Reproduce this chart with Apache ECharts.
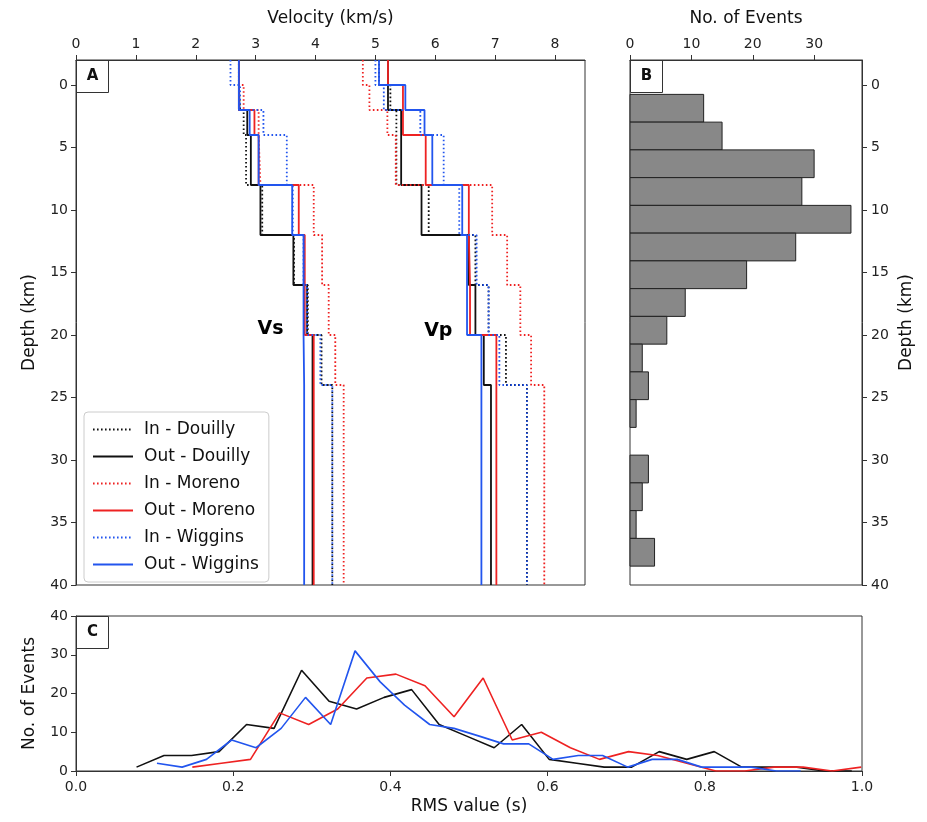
<!DOCTYPE html>
<html><head><meta charset="utf-8">
<script src="https://cdn.jsdelivr.net/npm/echarts@6/dist/echarts.min.js"></script>
<style>html,body{margin:0;padding:0;background:#fff}#c{width:927px;height:822px}</style>
</head><body><div id="c"></div>
<script>
// ---- Velocity models (panel A) ----
const layerTops = [-2, 0, 2, 4, 8, 12, 16, 20, 24];
const modelBottom = 40;
const modelNames = ['In - Douilly', 'Out - Douilly', 'In - Moreno', 'Out - Moreno', 'In - Wiggins', 'Out - Wiggins'];
const vsInDouilly   = [2.72, 2.74, 2.80, 2.84, 3.11, 3.64, 3.87, 4.10, 4.28];
const vsOutDouilly  = [2.72, 2.72, 2.86, 2.92, 3.08, 3.63, 3.86, 3.95, 3.95];
const vsInMoreno    = [2.72, 2.80, 3.05, 3.08, 3.97, 4.11, 4.22, 4.33, 4.47];
const vsOutMoreno   = [2.72, 2.72, 2.98, 3.05, 3.72, 3.82, 3.82, 3.97, 3.97];
const vsInWiggins   = [2.58, 2.74, 3.13, 3.52, 3.62, 3.80, 3.86, 4.08, 4.28];
const vsOutWiggins  = [2.72, 2.72, 2.90, 3.05, 3.61, 3.80, 3.80, 3.81, 3.81];
const vpInDouilly   = [5.06, 5.25, 5.35, 5.35, 5.89, 6.67, 6.89, 7.18, 7.53];
const vpOutDouilly  = [5.21, 5.21, 5.43, 5.43, 5.77, 6.56, 6.67, 6.81, 6.93];
const vpInMoreno    = [4.79, 4.90, 5.20, 5.34, 6.95, 7.20, 7.42, 7.60, 7.82];
const vpOutMoreno   = [5.21, 5.46, 5.46, 5.84, 6.56, 6.58, 6.58, 7.02, 7.02];
const vpInWiggins   = [5.00, 5.14, 5.75, 6.14, 6.40, 6.69, 6.89, 7.07, 7.53];
const vpOutWiggins  = [5.06, 5.50, 5.82, 5.95, 6.45, 6.53, 6.53, 6.77, 6.77];
const velocityTicks = [0, 1, 2, 3, 4, 5, 6, 7, 8];
const depthTicks = [0, 5, 10, 15, 20, 25, 30, 35, 40];

// ---- Histogram of event depths (panel B) ----
const histBinEdges = [0.75, 2.97, 5.19, 7.41, 9.63, 11.85, 14.07, 16.29, 18.51, 20.73, 22.95, 25.17, 27.39, 29.61, 31.83, 34.05, 36.27, 38.49];
const histCounts   = [12, 15, 30, 28, 36, 27, 19, 9, 6, 2, 3, 1, 0, 3, 2, 1, 4];
const eventTicks = [0, 10, 20, 30];

// ---- RMS distributions (panel C) ----
const rmsDouillyX = [0.077,0.112,0.147,0.182,0.217,0.252,0.287,0.322,0.357,0.392,0.427,0.462,0.497,0.532,0.567,0.602,0.637,0.672,0.707,0.742,0.777,0.812,0.847,0.882,0.917,0.952,0.987];
const rmsDouillyN = [1,4,4,5,12,11,26,18,16,19,21,12,9,6,12,3,2,1,1,5,3,5,1,1,1,0,0];
const rmsMorenoX  = [0.148,0.185,0.222,0.259,0.296,0.333,0.370,0.407,0.444,0.481,0.518,0.555,0.592,0.629,0.666,0.703,0.740,0.777,0.814,0.851,0.888,0.925,0.962,0.999];
const rmsMorenoN  = [1,2,3,15,12,16,24,25,22,14,24,8,10,6,3,5,4,2,0,0,1,1,0,1];
const rmsWigginsX = [0.103,0.135,0.166,0.198,0.229,0.261,0.292,0.324,0.355,0.387,0.418,0.450,0.481,0.513,0.544,0.576,0.607,0.639,0.670,0.702,0.733,0.765,0.796,0.828,0.859,0.891,0.922];
const rmsWigginsN = [2,1,3,8,6,11,19,12,31,23,17,12,11,9,7,7,3,4,4,1,3,3,1,1,1,0,0];

const BLACK = '#111111', RED = '#ee2222', BLUE = '#2255ee';
const FONT = 'DejaVu Sans';
const AX = '#333333';

function stepProfile(vals) {
  const pts = [];
  vals.forEach((v, i) => {
    const top = layerTops[i];
    const bot = i + 1 < layerTops.length ? layerTops[i + 1] : modelBottom;
    pts.push([v, top]); pts.push([v, bot]);
  });
  return pts;
}
const models = [
  {name: modelNames[0], vs: vsInDouilly,  vp: vpInDouilly,  color: BLACK, dotted: true},
  {name: modelNames[1], vs: vsOutDouilly, vp: vpOutDouilly, color: BLACK, dotted: false},
  {name: modelNames[2], vs: vsInMoreno,   vp: vpInMoreno,   color: RED,   dotted: true},
  {name: modelNames[3], vs: vsOutMoreno,  vp: vpOutMoreno,  color: RED,   dotted: false},
  {name: modelNames[4], vs: vsInWiggins,  vp: vpInWiggins,  color: BLUE,  dotted: true},
  {name: modelNames[5], vs: vsOutWiggins, vp: vpOutWiggins, color: BLUE,  dotted: false}
];
const series = [];
models.forEach(m => {
  ['vs', 'vp'].forEach(k => {
    series.push({
      type: 'line', name: m.name, xAxisIndex: 0, yAxisIndex: 0,
      data: stepProfile(m[k]), symbol: 'none', showSymbol: false,
      lineStyle: {color: m.color, width: 1.8, type: m.dotted ? [1.6, 2.4] : 'solid'},
      itemStyle: {color: m.color}, z: 2
    });
  });
});
series.push({
  type: 'custom', name: 'hist', xAxisIndex: 1, yAxisIndex: 1,
  data: histCounts.map((n, i) => [histBinEdges[i], histBinEdges[i + 1], n]),
  encode: {x: 2, y: [0, 1]},
  renderItem: (params, api) => {
    if (api.value(2) <= 0) return null;
    const c0 = api.coord([0, api.value(0)]);
    const c1 = api.coord([api.value(2), api.value(1)]);
    return {type: 'rect', shape: {x: c0[0], y: c0[1], width: c1[0] - c0[0], height: c1[1] - c0[1]},
      style: {fill: '#888888', stroke: '#222222', lineWidth: 1}};
  }
});
[[rmsDouillyX, rmsDouillyN, BLACK, 'RMS Douilly'], [rmsMorenoX, rmsMorenoN, RED, 'RMS Moreno'], [rmsWigginsX, rmsWigginsN, BLUE, 'RMS Wiggins']].forEach(([xs, ns, col, nm]) => {
  series.push({
    type: 'line', name: nm, xAxisIndex: 2, yAxisIndex: 2,
    data: xs.map((x, i) => [x, ns[i]]), symbol: 'none',
    lineStyle: {color: col, width: 1.6}, itemStyle: {color: col}
  });
});

const tickLbl = {fontSize: 14, color: '#222', fontFamily: FONT};
const nameStyle = {fontSize: 17, color: '#111', fontFamily: FONT};
const axLine = {show: true, onZero: false, lineStyle: {color: AX, width: 1}};

const chart = echarts.init(document.getElementById('c'));
chart.setOption({
  animation: false,
  backgroundColor: '#fff',
  textStyle: {fontFamily: FONT},
  grid: [
    {left: 76, top: 60, width: 509, height: 525, show: true, borderColor: AX, borderWidth: 1, backgroundColor: 'transparent'},
    {left: 630, top: 60, width: 232, height: 525, show: true, borderColor: AX, borderWidth: 1, backgroundColor: 'transparent'},
    {left: 76, top: 616, width: 786, height: 155, show: true, borderColor: AX, borderWidth: 1, backgroundColor: 'transparent'}
  ],
  xAxis: [
    {gridIndex: 0, type: 'value', position: 'top', min: 0, max: 8.5,
     axisLine: axLine, splitLine: {show: false},
     axisTick: {show: true, length: 5, customValues: velocityTicks, lineStyle: {color: AX}},
     axisLabel: Object.assign({customValues: velocityTicks, margin: 9}, tickLbl),
     name: 'Velocity (km/s)', nameLocation: 'middle', nameGap: 33, nameTextStyle: nameStyle},
    {gridIndex: 1, type: 'value', position: 'top', min: 0, max: 37.8,
     axisLine: axLine, splitLine: {show: false},
     axisTick: {show: true, length: 5, customValues: eventTicks, lineStyle: {color: AX}},
     axisLabel: Object.assign({customValues: eventTicks, margin: 9}, tickLbl),
     name: 'No. of Events', nameLocation: 'middle', nameGap: 33, nameTextStyle: nameStyle},
    {gridIndex: 2, type: 'value', position: 'bottom', min: 0, max: 1, interval: 0.2,
     axisLine: axLine, splitLine: {show: false},
     axisTick: {show: true, length: 5, lineStyle: {color: AX}},
     axisLabel: Object.assign({margin: 9, formatter: v => v.toFixed(1)}, tickLbl),
     name: 'RMS value (s)', nameLocation: 'middle', nameGap: 27, nameTextStyle: nameStyle}
  ],
  yAxis: [
    {gridIndex: 0, type: 'value', position: 'left', inverse: true, min: -2, max: 40,
     axisLine: axLine, splitLine: {show: false},
     axisTick: {show: true, length: 5, customValues: depthTicks, lineStyle: {color: AX}},
     axisLabel: Object.assign({customValues: depthTicks, margin: 8}, tickLbl),
     name: 'Depth (km)', nameLocation: 'middle', nameRotate: 90, nameGap: 38, nameTextStyle: nameStyle},
    {gridIndex: 1, type: 'value', position: 'right', inverse: true, min: -2, max: 40,
     axisLine: axLine, splitLine: {show: false},
     axisTick: {show: true, length: 5, customValues: depthTicks, lineStyle: {color: AX}},
     axisLabel: Object.assign({customValues: depthTicks, margin: 9}, tickLbl),
     name: 'Depth (km)', nameLocation: 'middle', nameRotate: 90, nameGap: 36, nameTextStyle: nameStyle},
    {gridIndex: 2, type: 'value', position: 'left', min: 0, max: 40, interval: 10,
     axisLine: axLine, splitLine: {show: false},
     axisTick: {show: true, length: 5, lineStyle: {color: AX}},
     axisLabel: Object.assign({margin: 8}, tickLbl),
     name: 'No. of Events', nameLocation: 'middle', nameRotate: 90, nameGap: 38, nameTextStyle: nameStyle}
  ],
  legend: {
    data: modelNames, orient: 'vertical', left: 84, top: 412,
    backgroundColor: '#fff', borderColor: '#cccccc', borderWidth: 1, borderRadius: 4,
    padding: [9, 10, 9, 8], itemGap: 10, itemWidth: 40, itemHeight: 16,
    itemStyle: {opacity: 0},
    textStyle: {fontSize: 17, color: '#111', fontFamily: FONT, lineHeight: 16, padding: [0, 0, 0, 6]},
    selectedMode: false
  },
  series: series
});

const pVs = chart.convertToPixel({xAxisIndex: 0, yAxisIndex: 0}, [3.25, 19.5]);
const pVp = chart.convertToPixel({xAxisIndex: 0, yAxisIndex: 0}, [6.05, 19.7]);
function labelBox(x, y, t) {
  return {type: 'group', x: x, y: y, z: 100, children: [
    {type: 'rect', shape: {x: 0, y: 0, width: 32, height: 32}, style: {fill: '#fff', stroke: AX, lineWidth: 1}},
    {type: 'text', x: 16, y: 16, style: {text: t, fontSize: 15, fontWeight: 'bold', fontFamily: FONT, fill: '#111', align: 'center', verticalAlign: 'middle'}}
  ]};
}
chart.setOption({graphic: [
  labelBox(76.5, 60.5, 'A'), labelBox(630.5, 60.5, 'B'), labelBox(76.5, 616.5, 'C'),
  {type: 'text', x: pVs[0], y: pVs[1], z: 100, style: {text: 'Vs', fontSize: 19, fontWeight: 'bold', fontFamily: FONT, fill: '#000', align: 'center', verticalAlign: 'middle'}},
  {type: 'text', x: pVp[0], y: pVp[1], z: 100, style: {text: 'Vp', fontSize: 19, fontWeight: 'bold', fontFamily: FONT, fill: '#000', align: 'center', verticalAlign: 'middle'}}
]});
</script>
</body></html>
